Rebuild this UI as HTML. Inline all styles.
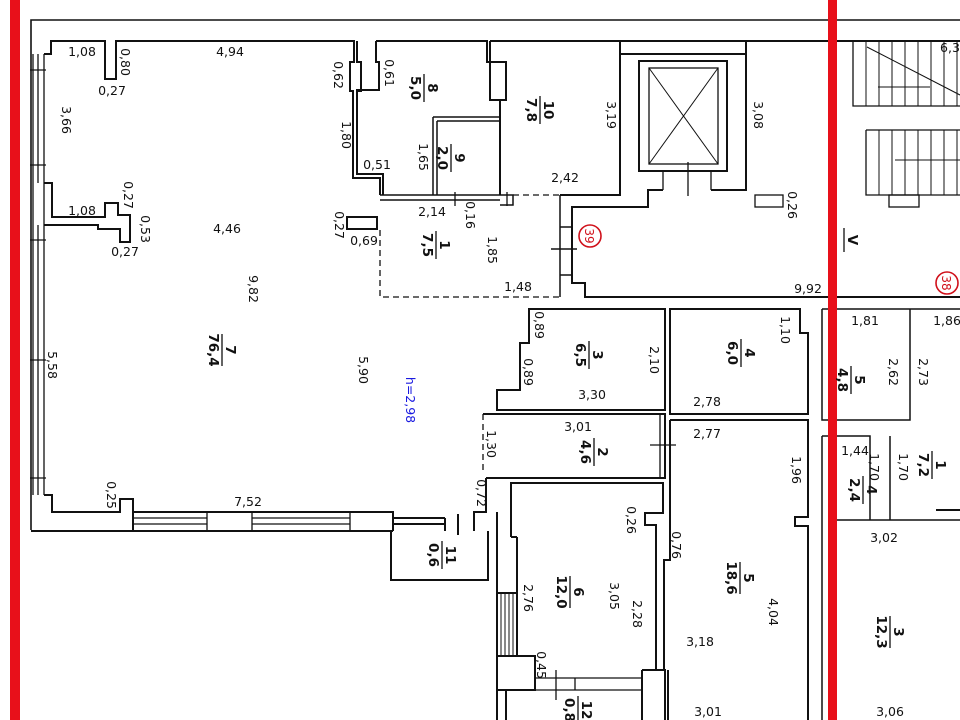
<!DOCTYPE html>
<html><head><meta charset="utf-8"><style>
html,body{margin:0;padding:0;background:#fff;width:960px;height:720px;overflow:hidden}
svg{display:block}
text{font-family:"DejaVu Sans","Liberation Sans",sans-serif;font-size:12.5px;fill:#111}
.b{font-weight:bold;font-size:13.5px}
</style></head><body>
<svg width="960" height="720" viewBox="0 0 960 720" xmlns="http://www.w3.org/2000/svg">
<g fill="none" stroke="#111" stroke-width="2">
<path d="M31,530 V20 H960" stroke-width="1.6"/>
<path d="M31,531 H393" />
<path d="M44,54 H51 V41 H105 V79 H116 V41 H354 V62 H350 V91 H353 V178 H380 V195"/>
<path d="M357,41 V62 H361 V91 H357 V174"/>
<path d="M44,183 H52 V217 H105 V203 H118 V215 H130 V242 H120 V229 H98 V225 H44"/>
<path d="M44,495 H52 V512 H120 V499 H133 V531"/>
<path d="M133,512 H393 V531"/>
<path d="M33,54 V495 M44,54 V495 M38,54 V183 M38,225 V495" stroke-width="1.3"/>
<path d="M30,70 H46 M30,165 H46 M30,240 H46 M30,360 H46 M30,478 H46" stroke-width="1.3"/>
<path d="M133,518 H207 M133,524 H207 M207,512 V531 M252,512 V531 M252,518 H350 M252,524 H350 M350,512 V531" stroke-width="1.3"/>
<path d="M393,518 H445 M393,524 H445 M445,518 V531 M458,514 V535 M474,518 V531"/>
<path d="M474,531 V512 H486 V478"/>
<path d="M391,531 V580 H488 V531"/>
<path d="M380,230 V297 H560" stroke-dasharray="6,4" stroke-width="1.3"/>
<path d="M513,195 H560" stroke-dasharray="6,4" stroke-width="1.3"/>
<path d="M347,217 H377 V229 H347 Z"/>
<path d="M380,195 H513 V205 H500 M380,200 H500" stroke-width="1.5"/>
<path d="M455,192 V206 M507,192 V206" stroke-width="1.3"/>
<path d="M376,41 V62 H379 V90 H357 V174 H383 V195"/>
<path d="M376,41 H487 V62 H490 V100 H500 V195"/>
<path d="M433,117 H500 M433,117 V195 M437,121 H500 M437,121 V195" stroke-width="1.5"/>
<path d="M490,41 V62 H506 V100 H500 M490,41 H620 V195 H560"/>
<path d="M620,41 H960 M620,54 H746 M746,41 V190 H711 M620,54 V195"/>
<rect x="639" y="61" width="88" height="110"/>
<rect x="649" y="68" width="69" height="96" stroke-width="1.3"/>
<path d="M649,68 L718,164 M718,68 L649,164" stroke-width="1"/>
<path d="M663,171 V190 M711,171 V190 M688,162 V196" stroke-width="1.3"/>
<path d="M663,190 H648 V207 H572 V283 H585 V297 H960"/>
<path d="M560,195 V297 M560,227 H572 M560,275 H572 M551,249 H577" stroke-width="1.5"/>
<rect x="755" y="195" width="28" height="12" stroke-width="1.3"/>
<path d="M853,41 V106 H960 M866,130 H960 M866,130 V195 H960" stroke-width="1.3"/>
<path d="M866,41 V106 M879,41 V106 M892,41 V106 M905,41 V106 M918,41 V106 M931,41 V106 M944,41 V106 M957,41 V106 M879,130 V195 M892,130 V195 M905,130 V195 M918,130 V195 M931,130 V195 M944,130 V195 M957,130 V195" stroke-width="1"/>
<path d="M867,47 L960,95 M878,87 H930 M895,160 H960" stroke-width="1"/>
<rect x="889" y="195" width="30" height="12" stroke-width="1.3"/>
<path d="M529,309 H665 V410 H497 V390 H520 V343 H529 Z"/>
<path d="M670,309 H800 V333 H808 V414 H670 Z"/>
<path d="M483,414 H665 V478 H486" />
<path d="M483,414 V470" stroke-dasharray="6,4" stroke-width="1.3"/>
<path d="M660,414 V478 M650,445 H676" stroke-width="1.3"/>
<path d="M670,420 H808 V517 H795 V526 H808 V720 M670,420 V560 H664 V670"/>
<!-- room 6 -->
<path d="M511,537 V483 H663 V513 H645 V525 H656 V670"/>
<path d="M497,512 V720 M517,537 V656 M511,537 H517"/>
<path d="M501,593 V656 M505,593 V656 M509,593 V656 M513,593 V656" stroke-width="1"/>
<path d="M497,593 H517 M497,656 H535 V690 H497"/>
<path d="M535,678 H642 M535,690 H642 M575,678 V690 M556,670 V700" stroke-width="1.3"/>
<path d="M642,670 H665 V720 M642,670 V720 M668,670 V720"/>
<path d="M506,690 V720"/>
<path d="M822,309 V420 H910 V309 M908,309 H960 M822,436 H870 V520 M822,436 V720 M890,436 V520 H960 M836,520 H960 M822,309 H960" stroke-width="1.5"/>
<path d="M936,510 H960" />
</g>
<rect x="10" y="0" width="10" height="720" fill="#e8101a"/>
<rect x="828" y="0" width="9" height="720" fill="#e8101a"/>
<g fill="none" stroke="#d0101a" stroke-width="1.6"><circle cx="590" cy="236" r="11"/><circle cx="947" cy="283" r="11"/></g>
<text transform="translate(585,236) rotate(90)" text-anchor="middle" style="fill:#d0101a;font-size:12px">39</text>
<text transform="translate(942,283) rotate(90)" text-anchor="middle" style="fill:#d0101a;font-size:12px">38</text>
<g text-anchor="middle">
<text x="82" y="56">1,08</text><text x="230" y="56">4,94</text><text x="112" y="95">0,27</text>
<text x="82" y="215">1,08</text><text x="125" y="256">0,27</text><text x="227" y="233">4,46</text>
<text x="377" y="169">0,51</text><text x="432" y="216">2,14</text><text x="364" y="245">0,69</text>
<text x="565" y="182">2,42</text><text x="518" y="291">1,48</text><text x="808" y="293">9,92</text>
<text x="865" y="325">1,81</text><text x="947" y="325">1,86</text><text x="592" y="399">3,30</text>
<text x="578" y="431">3,01</text><text x="707" y="406">2,78</text><text x="707" y="438">2,77</text>
<text x="855" y="455">1,44</text><text x="884" y="542">3,02</text><text x="248" y="506">7,52</text>
<text x="700" y="646">3,18</text><text x="708" y="716">3,01</text><text x="890" y="716">3,06</text>
<text x="950" y="52">6,3</text>
</g>
<g text-anchor="middle">
<text transform="translate(121,62) rotate(90)">0,80</text>
<text transform="translate(62,120) rotate(90)">3,66</text>
<text transform="translate(334,75) rotate(90)">0,62</text>
<text transform="translate(385,73) rotate(90)">0,61</text>
<text transform="translate(342,135) rotate(90)">1,80</text>
<text transform="translate(419,157) rotate(90)">1,65</text>
<text transform="translate(466,215) rotate(90)">0,16</text>
<text transform="translate(124,195) rotate(90)">0,27</text>
<text transform="translate(141,229) rotate(90)">0,53</text>
<text transform="translate(335,225) rotate(90)">0,27</text>
<text transform="translate(249,289) rotate(90)">9,82</text>
<text transform="translate(48,365) rotate(90)">5,58</text>
<text transform="translate(359,370) rotate(90)">5,90</text>
<text transform="translate(488,250) rotate(90)">1,85</text>
<text transform="translate(607,115) rotate(90)">3,19</text>
<text transform="translate(754,115) rotate(90)">3,08</text>
<text transform="translate(788,205) rotate(90)">0,26</text>
<text transform="translate(535,325) rotate(90)">0,89</text>
<text transform="translate(524,372) rotate(90)">0,89</text>
<text transform="translate(650,360) rotate(90)">2,10</text>
<text transform="translate(781,330) rotate(90)">1,10</text>
<text transform="translate(889,372) rotate(90)">2,62</text>
<text transform="translate(919,372) rotate(90)">2,73</text>
<text transform="translate(487,444) rotate(90)">1,30</text>
<text transform="translate(792,470) rotate(90)">1,96</text>
<text transform="translate(870,467) rotate(90)">1,70</text>
<text transform="translate(899,467) rotate(90)">1,70</text>
<text transform="translate(477,493) rotate(90)">0,72</text>
<text transform="translate(107,495) rotate(90)">0,25</text>
<text transform="translate(627,520) rotate(90)">0,26</text>
<text transform="translate(672,545) rotate(90)">0,76</text>
<text transform="translate(524,598) rotate(90)">2,76</text>
<text transform="translate(610,596) rotate(90)">3,05</text>
<text transform="translate(633,614) rotate(90)">2,28</text>
<text transform="translate(769,612) rotate(90)">4,04</text>
<text transform="translate(537,665) rotate(90)">0,45</text>
<text transform="translate(406,400) rotate(90)" style="fill:#1a1ae0">h=2,98</text>
</g>
<g text-anchor="middle" stroke="#111" stroke-width="1.3">
<g transform="translate(424,88) rotate(90)"><line x1="-14" x2="14"/><text class="b" y="-4" stroke="none">8</text><text class="b" y="13" stroke="none">5,0</text></g>
<g transform="translate(451,158) rotate(90)"><line x1="-14" x2="14"/><text class="b" y="-4" stroke="none">9</text><text class="b" y="13" stroke="none">2,0</text></g>
<g transform="translate(540,110) rotate(90)"><line x1="-14" x2="14"/><text class="b" y="-4" stroke="none">10</text><text class="b" y="13" stroke="none">7,8</text></g>
<g transform="translate(436,245) rotate(90)"><line x1="-14" x2="14"/><text class="b" y="-4" stroke="none">1</text><text class="b" y="13" stroke="none">7,5</text></g>
<g transform="translate(222,350) rotate(90)"><line x1="-16" x2="16"/><text class="b" y="-4" stroke="none">7</text><text class="b" y="13" stroke="none">76,4</text></g>
<g transform="translate(589,355) rotate(90)"><line x1="-14" x2="14"/><text class="b" y="-4" stroke="none">3</text><text class="b" y="13" stroke="none">6,5</text></g>
<g transform="translate(741,353) rotate(90)"><line x1="-14" x2="14"/><text class="b" y="-4" stroke="none">4</text><text class="b" y="13" stroke="none">6,0</text></g>
<g transform="translate(851,380) rotate(90)"><line x1="-14" x2="14"/><text class="b" y="-4" stroke="none">5</text><text class="b" y="13" stroke="none">4,8</text></g>
<g transform="translate(932,465) rotate(90)"><line x1="-14" x2="14"/><text class="b" y="-4" stroke="none">1</text><text class="b" y="13" stroke="none">7,2</text></g>
<g transform="translate(594,452) rotate(90)"><line x1="-14" x2="14"/><text class="b" y="-4" stroke="none">2</text><text class="b" y="13" stroke="none">4,6</text></g>
<g transform="translate(863,490) rotate(90)"><line x1="-14" x2="14"/><text class="b" y="-4" stroke="none">4</text><text class="b" y="13" stroke="none">2,4</text></g>
<g transform="translate(570,592) rotate(90)"><line x1="-16" x2="16"/><text class="b" y="-4" stroke="none">6</text><text class="b" y="13" stroke="none">12,0</text></g>
<g transform="translate(740,578) rotate(90)"><line x1="-16" x2="16"/><text class="b" y="-4" stroke="none">5</text><text class="b" y="13" stroke="none">18,6</text></g>
<g transform="translate(890,632) rotate(90)"><line x1="-16" x2="16"/><text class="b" y="-4" stroke="none">3</text><text class="b" y="13" stroke="none">12,3</text></g>
<g transform="translate(442,555) rotate(90)"><line x1="-14" x2="14"/><text class="b" y="-4" stroke="none">11</text><text class="b" y="13" stroke="none">0,6</text></g>
<g transform="translate(578,710) rotate(90)"><line x1="-14" x2="14"/><text class="b" y="-4" stroke="none">12</text><text class="b" y="13" stroke="none">0,8</text></g>
<g transform="translate(844,240) rotate(90)"><line x1="-12" x2="12"/><text class="b" y="-4" stroke="none">V</text></g>
</g>
</svg>
</body></html>
